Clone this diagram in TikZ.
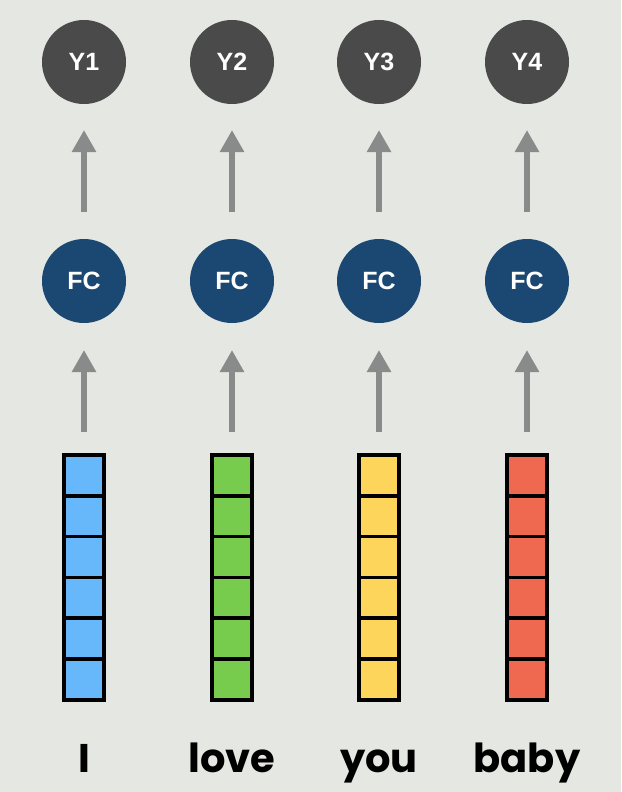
\documentclass[tikz,border=0pt]{standalone}
\usepackage{fontspec}
\setmainfont{Liberation Sans}
\newfontfamily\wordfont{Poppins}
\usetikzlibrary{arrows.meta}
\definecolor{bg}{HTML}{E5E7E2}
\definecolor{ycol}{HTML}{4A4A4A}
\definecolor{fccol}{HTML}{1B4872}
\definecolor{arrcol}{HTML}{8A8A8A}
\definecolor{cblue}{HTML}{66B8FB}
\definecolor{cgreen}{HTML}{77CC4E}
\definecolor{cyellow}{HTML}{FCD55A}
\definecolor{cred}{HTML}{EF6950}
\tikzset{
  ynode/.style={circle,fill=ycol,minimum size=84pt,inner sep=0pt,text=white,font=\bfseries\fontsize{25}{25}\selectfont},
  fcnode/.style={circle,fill=fccol,minimum size=84pt,inner sep=0pt,text=white,font=\bfseries\fontsize{25}{25}\selectfont},
  flow/.style={draw=arrcol,line width=6pt,-{Triangle[length=22pt,width=23pt]}},
  cell/.style={draw=black,line width=3.5pt,minimum width=40pt,minimum height=40.8pt,inner sep=0pt},
  word/.style={font=\wordfont\bfseries\fontsize{40}{40}\selectfont,text=black,anchor=base}
}
\begin{document}
\begin{tikzpicture}[x=1pt,y=-1pt]
\fill[bg] (0,0) rectangle (621,792);
\useasboundingbox (0,0) rectangle (621,792);
\foreach \i/\x/\c/\w in {1/84/cblue/I,2/232/cgreen/love,3/379/cyellow/you,4/527/cred/baby}{
  \node[ynode] (y\i) at (\x,62) {Y\i};
  \node[fcnode] (fc\i) at (\x,281) {FC};
  \coordinate (a\i s) at (\x,212);
  \coordinate (a\i e) at (\x,130);
  \coordinate (b\i s) at (\x,432);
  \coordinate (b\i e) at (\x,350);
  \draw[flow] (a\i s) -- (a\i e);
  \draw[flow] (b\i s) -- (b\i e);
  \foreach \k in {0,...,5}{
    \node[cell,fill=\c] (v\i-\k) at (\x,{475.4+\k*40.8}) {};
  }
  \node[word] (w\i) at (\x,772) {\w};
}
\end{tikzpicture}
\end{document}
